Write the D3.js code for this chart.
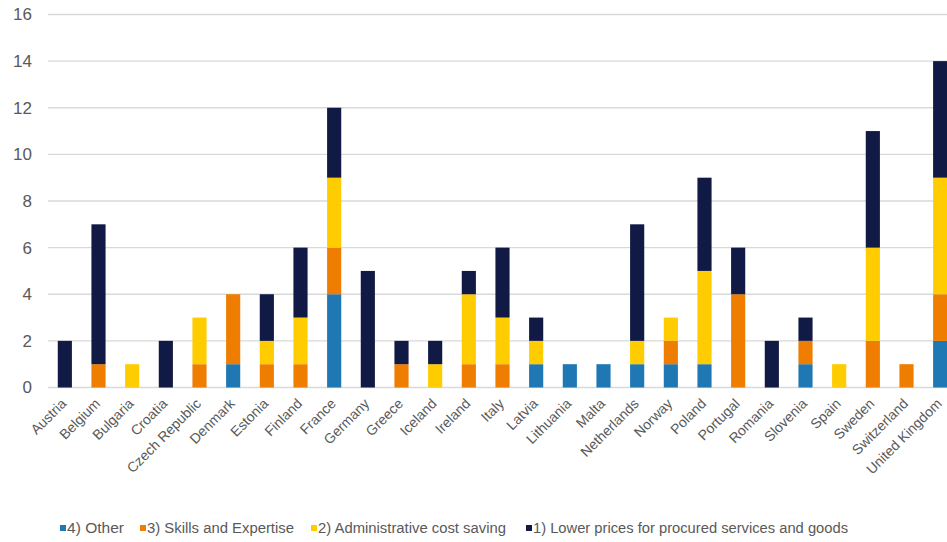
<!DOCTYPE html>
<html>
<head>
<meta charset="utf-8">
<script src="https://cdn.jsdelivr.net/npm/d3@7"></script>
<style>
  html, body { margin: 0; padding: 0; background: #fff; }
  svg { display: block; font-family: "Liberation Sans", Arial, sans-serif; }
</style>
</head>
<body>
<svg id="chart" width="947" height="542"></svg>
<script>
// Countries along the x axis
const countries = ["Austria", "Belgium", "Bulgaria", "Croatia", "Czech Republic", "Denmark",
  "Estonia", "Finland", "France", "Germany", "Greece", "Iceland", "Ireland", "Italy", "Latvia",
  "Lithuania", "Malta", "Netherlands", "Norway", "Poland", "Portugal", "Romania", "Slovenia",
  "Spain", "Sweden", "Switzerland", "United Kingdom"];

// Series, stacked bottom to top
const seriesNames = ["4) Other", "3) Skills and Expertise", "2) Administrative cost saving",
  "1) Lower prices for procured services and goods"];
const other        = [0,0,0,0,0,1,0,0,4,0,0,0,0,0,1,1,1,1,1,1,0,0,1,0,0,0,2];
const skills       = [0,1,0,0,1,3,1,1,2,0,1,0,1,1,0,0,0,0,1,0,4,0,1,0,2,1,2];
const adminSaving  = [0,0,1,0,2,0,1,2,3,0,0,1,3,2,1,0,0,1,1,4,0,0,0,1,4,0,5];
const lowerPrices  = [2,6,0,2,0,0,2,3,3,5,1,1,1,3,1,0,0,5,0,4,2,2,1,0,5,0,5];
const seriesColors = ["#1f78b4", "#ee7d00", "#ffcc00", "#111945"];
const yTicks = [0, 2, 4, 6, 8, 10, 12, 14, 16];

const seriesValues = [other, skills, adminSaving, lowerPrices];
const rows = countries.map((c, i) => {
  const r = { country: c };
  seriesNames.forEach((s, k) => { r[s] = seriesValues[k][i]; });
  return r;
});

const svg = d3.select("#chart");

const x = d3.scaleBand().domain(countries).range([48, 957]).paddingInner(0.58).paddingOuter(0.29);
const y = d3.scaleLinear().domain([0, 16]).range([387.5, 14.5]);

// Horizontal gridlines
svg.append("g").selectAll("line").data(yTicks).join("line")
  .attr("x1", 48).attr("x2", 947)
  .attr("y1", d => y(d)).attr("y2", d => y(d))
  .attr("stroke", "#d9d9d9").attr("stroke-width", 1.3);

// Y axis labels
const yAxis = d3.axisLeft(y).tickValues(yTicks).tickSize(0).tickPadding(0);
const yg = svg.append("g").attr("transform", "translate(32,0)").call(yAxis);
yg.select(".domain").remove();
yg.selectAll("text").attr("fill", "#595959").attr("font-size", 17)
  .attr("font-family", "'Liberation Sans', Arial, sans-serif");

// Stacked bars
const stack = d3.stack().keys(seriesNames);
const stacked = stack(rows);
svg.append("g").selectAll("g").data(stacked).join("g")
  .attr("fill", (d, i) => seriesColors[i])
  .selectAll("rect").data(d => d).join("rect")
  .attr("x", d => x(d.data.country))
  .attr("width", x.bandwidth())
  .attr("y", d => y(d[1]))
  .attr("height", d => y(d[0]) - y(d[1]));

// X axis category labels, rotated
const xAxis = d3.axisBottom(x).tickSize(0).tickPadding(0);
const xg = svg.append("g").attr("transform", "translate(0,394)").call(xAxis);
xg.select(".domain").remove();
xg.selectAll("text")
  .attr("fill", "#595959").attr("font-size", 14)
  .attr("font-family", "'Liberation Sans', Arial, sans-serif")
  .attr("text-anchor", "end")
  .attr("dy", "0.35em")
  .attr("transform", "translate(-1,7) rotate(-45)");

// Legend
const legendX = [60, 140, 311, 526];
const legendTextW = [57, 147, 188, 315];
const legend = svg.append("g").selectAll("g").data(seriesNames).join("g")
  .attr("transform", (d, i) => `translate(${legendX[i]},528)`);
legend.append("rect").attr("x", 0).attr("y", -3).attr("width", 6).attr("height", 6)
  .attr("fill", (d, i) => seriesColors[i]);
legend.append("text")
  .attr("x", 7)
  .attr("y", 0).attr("dy", "0.36em")
  .attr("fill", "#595959").attr("font-size", 14)
  .attr("textLength", (d, i) => legendTextW[i])
  .attr("lengthAdjust", "spacingAndGlyphs")
  .text(d => d);
</script>
</body>
</html>
